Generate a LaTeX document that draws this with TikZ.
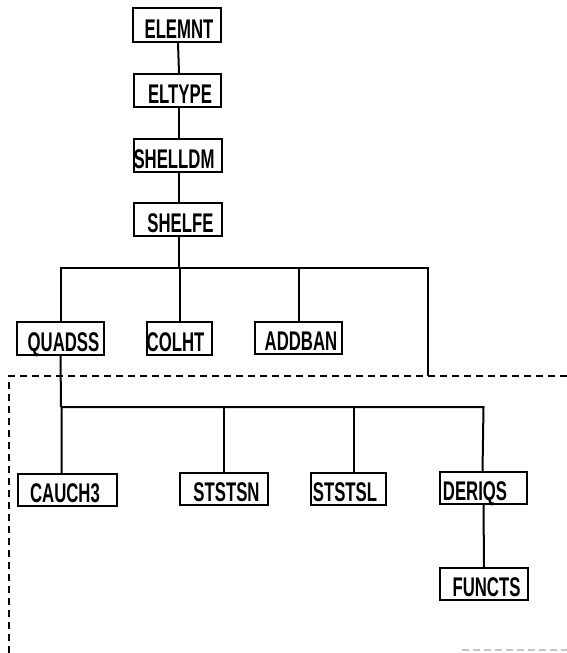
\documentclass[tikz,border=0pt]{standalone}
\usepackage{fontspec}
\setmainfont[FakeStretch=0.62]{Liberation Sans}
\tikzset{
  box/.style={draw, line width=1.5pt, inner sep=0pt, rectangle},
  lbl/.style={inner sep=0pt, font=\fontsize{27}{27}\selectfont\bfseries, anchor=base},
  conn/.style={line width=2pt},
  bnd/.style={line width=1.3pt, dash pattern=on 7pt off 5pt},
  faint/.style={line width=1.3pt, gray!45, dash pattern=on 7pt off 4pt}
}
% name, x1, x2, y1, y2, text-centre-x, text
\newcommand\mkbox[7]{%
  \node[box, minimum width={#3-#2}, minimum height={#5-#4}] (#1) at ({(#2+#3)/2},{(#4+#5)/2}) {};
  \node[lbl] (#1-t) at (#6,{#5-4}) {#7};
}
\begin{document}
\begin{tikzpicture}[x=1pt,y=-1pt]
\useasboundingbox (0,0) rectangle (567,653);
\mkbox{elemnt}{133}{221}{8}{42}{179}{ELEMNT}
\mkbox{eltype}{134}{221}{74}{107}{180}{ELTYPE}
\mkbox{shelldm}{134}{222}{139}{172}{174}{SHELLDM}
\mkbox{shelfe}{134}{222}{203}{236}{180.5}{SHELFE}
\mkbox{quadss}{17}{104}{322}{355}{63.5}{QUADSS}
\mkbox{colht}{147}{212}{322}{355}{175.5}{COLHT}
\mkbox{addban}{255}{342}{322}{354}{301}{ADDBAN}
\mkbox{cauch}{18}{117}{474}{506}{65}{CAUCH3}
\mkbox{ststsn}{180}{268}{473}{505}{226.5}{STSTSN}
\mkbox{ststsl}{311}{386}{473}{505}{345}{STSTSL}
\mkbox{deriqs}{440}{527}{472}{504}{475}{DERIQS}
\mkbox{functs}{440}{528}{568}{600}{486.5}{FUNCTS}

% bus coordinates
\coordinate (busA) at (179,268);
\coordinate (busB) at (61,407);
\coordinate (outR) at (428,376);

% top column
\draw[conn] ([xshift=1pt]elemnt.south) -- ([xshift=1.5pt]eltype.north);
\draw[conn] ([xshift=1.5pt]eltype.south) -- ([xshift=1pt]shelldm.north);
\draw[conn] ([xshift=1pt]shelldm.south) -- ([xshift=1pt]shelfe.north);
\draw[conn] ([xshift=1pt]shelfe.south) -- (busA);
% first bus
\draw[conn] (quadss.north) |- (busA) -| (outR);
\draw[conn] (colht.north) -- (colht.north |- busA);
\draw[conn] (addban.north) -- (addban.north |- busA);
% second bus
\draw[conn] (quadss.south) -- (busB);
\draw[conn] ([xshift=-6pt]cauch.north) -- ([xshift=-6pt]cauch.north |- busB) -- (busB -| deriqs.north) -- ([xshift=-1pt]deriqs.north);
\draw[conn] (ststsn.north) -- (ststsn.north |- busB);
\draw[conn] ([xshift=5.5pt]ststsl.north) -- ([xshift=5.5pt]ststsl.north |- busB);
\draw[conn] (deriqs.south) -- (functs.north);

% boundary of dashed region
\coordinate (dL) at (9,376);
\coordinate (dR) at (567,376);
\coordinate (dB) at (9,653);
\draw[bnd] (dR) -- (dL) -- (dB);
\coordinate (gA) at (462,650);
\coordinate (gB) at (567,650);
\draw[faint] (gA) -- (gB);
\end{tikzpicture}
\end{document}
